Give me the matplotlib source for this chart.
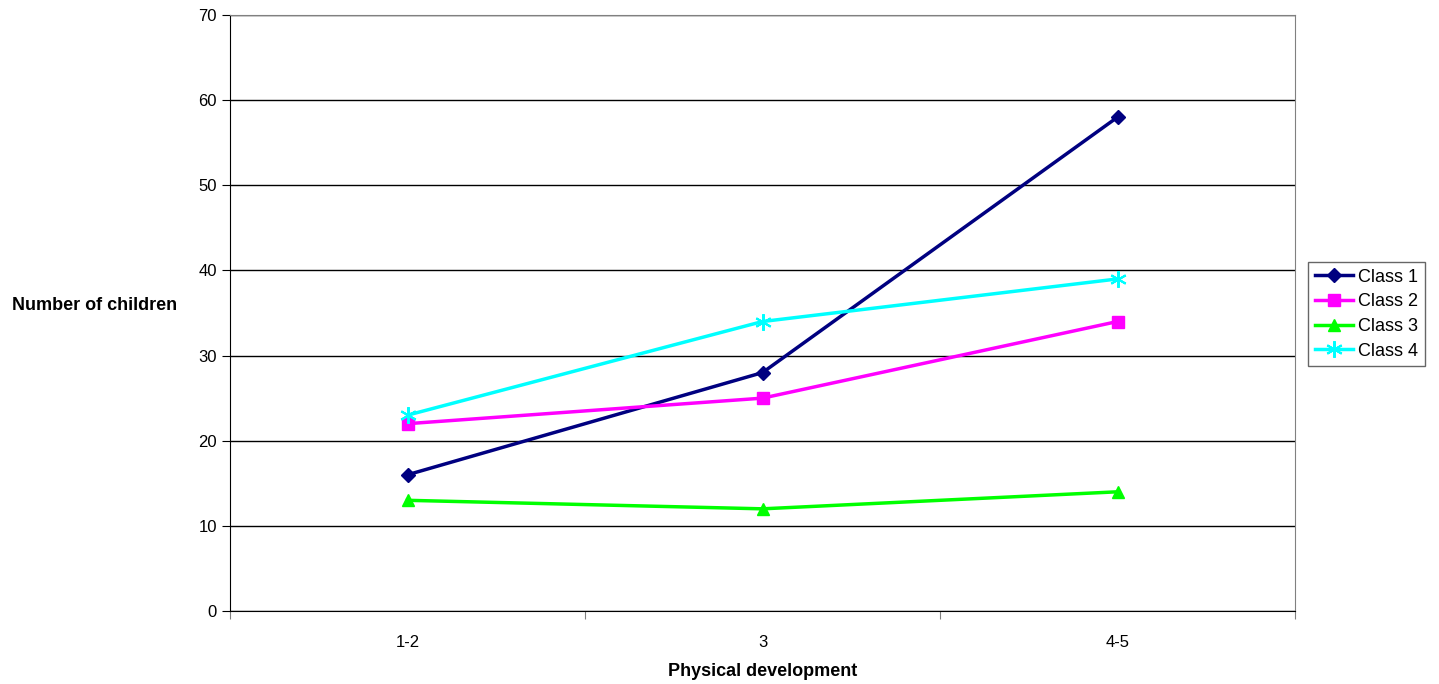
import matplotlib.pyplot as plt
import numpy as np

plt.rcParams['font.family'] = ['Liberation Sans', 'DejaVu Sans']

categories = ["1-2", "3", "4-5"]
class1 = [16, 28, 58]
class2 = [22, 25, 34]
class3 = [13, 12, 14]
class4 = [23, 34, 39]

fig = plt.figure(figsize=(14.39, 6.84), dpi=100)
ax = fig.add_axes([230/1439, 1 - 611/684, (1295 - 230)/1439, (611 - 15)/684])

x = np.arange(len(categories)) + 0.5
ax.plot(x, class1, color='#000080', marker='D', markersize=7, lw=2.5, label='Class 1')
ax.plot(x, class2, color='#FF00FF', marker='s', markersize=8, lw=2.5, label='Class 2')
ax.plot(x, class3, color='#00FF00', marker='^', markersize=9, lw=2.5, label='Class 3')
ax.plot(x, class4, color='#00FFFF', marker=(6, 2, 0), markersize=12, mew=1.5, lw=2.5, label='Class 4')

ax.set_xlim(0, 3)
ax.set_ylim(0, 70)
ax.set_yticks(range(0, 71, 10))
ax.set_xticks([0, 1, 2, 3])
ax.set_xticklabels([])
ax.set_xticks(x, minor=True)
ax.set_xticklabels(categories, minor=True)
ax.tick_params(axis='x', which='minor', length=0, pad=17, labelsize=12)
ax.tick_params(axis='x', which='major', direction='out', length=6, color='#808080')
ax.tick_params(axis='y', direction='out', length=6, labelsize=12)
ax.yaxis.grid(True, color='black', lw=1)
ax.set_axisbelow(True)

for s in ['top', 'right']:
    ax.spines[s].set_color('#808080')
ax.spines['left'].set_color('black')
ax.spines['bottom'].set_color('black')

ax.set_xlabel("Physical development", fontsize=13, fontweight='bold', labelpad=10)
fig.text(95/1439, 1 - 305/684, "Number of children", fontsize=13, fontweight='bold',
         ha='center', va='center')

leg = ax.legend(loc='center left', bbox_to_anchor=(1.012, 0.498), fontsize=13,
                frameon=True, fancybox=False, edgecolor='#404040', borderaxespad=0,
                handlelength=2.1, handletextpad=0.3, labelspacing=0.42, borderpad=0.38)
leg.get_frame().set_linewidth(1)

plt.savefig('out.png')
